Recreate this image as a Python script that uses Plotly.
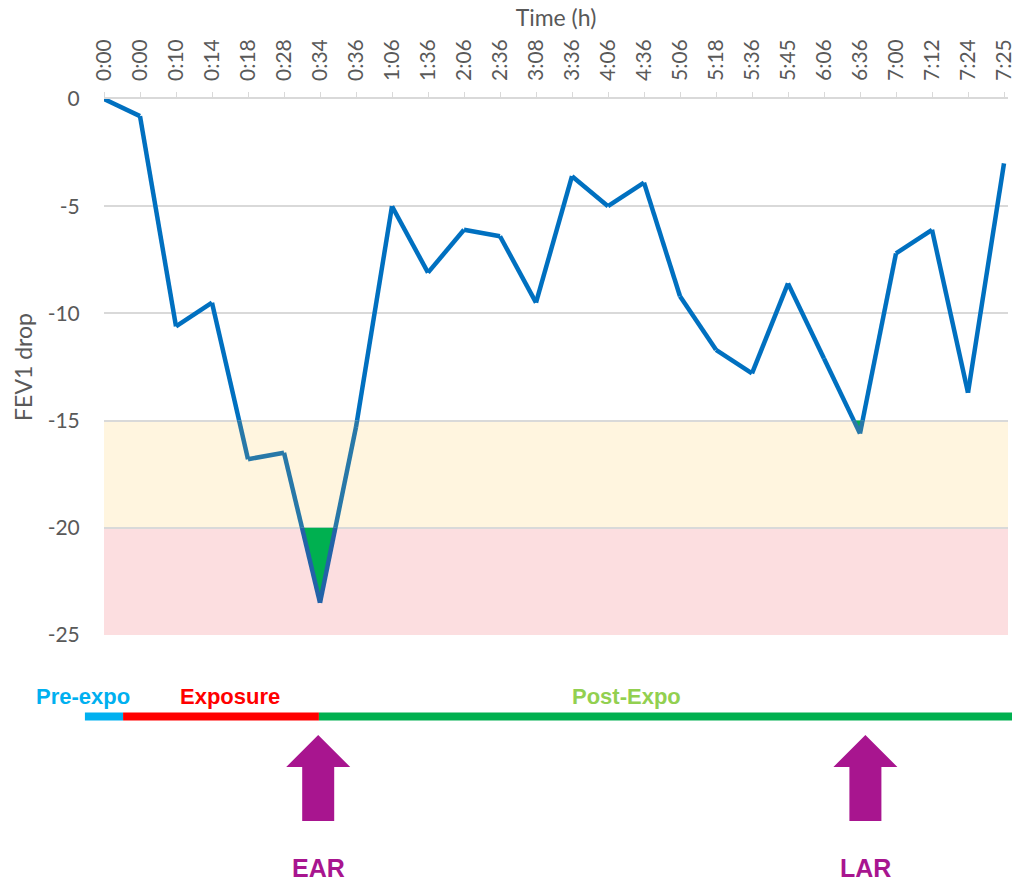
import plotly.graph_objects as go

# ---------------- data ----------------
time_labels = ["0:00", "0:00", "0:10", "0:14", "0:18", "0:28", "0:34", "0:36", "1:06", "1:36",
               "2:06", "2:36", "3:08", "3:36", "4:06", "4:36", "5:06", "5:18", "5:36", "5:45",
               "6:06", "6:36", "7:00", "7:12", "7:24", "7:25"]
fev1_drop = [0, -0.8, -10.6, -9.5, -16.8, -16.5, -23.5, -15.3, -5.0, -8.1,
             -6.1, -6.4, -9.5, -3.6, -5.0, -3.9, -9.2, -11.7, -12.8, -8.6,
             -12.1, -15.6, -7.2, -6.1, -13.7, -3.0]
y_ticks = [0, -5, -10, -15, -20, -25]
y_tick_labels = ["0", "-5", "-10", "-15", "-20", "-25"]

band_limits = [-15, -20, -25]          # yellow zone: -15..-20, red zone: -20..-25
band_colors = ["#FFF5DF", "#FCDEE0"]
line_colors = ["#0070C0", "#2878A8", "#2262A8"]   # above -15, in yellow zone, in red zone

phase_names = ["Pre-expo", "Exposure", "Post-Expo"]
phase_bounds = [-0.53, 0.53, 5.97, 25.25]          # in time-point index units
phase_bar_colors = ["#00B0F0", "#FF0000", "#00B050"]
phase_text_colors = ["#00B0F0", "#FF0000", "#92D050"]
phase_label_pos = [-0.58, 3.49, 14.51]

event_names = ["EAR", "LAR"]
event_index = [6, 21]                  # time point of the reaction
event_threshold = [-20, -15]
event_arrow_pos = [5.95, 21.15]
arrow_color = "#A8158F"

# ---------------- geometry helpers ----------------
W, H = 1012, 883
ML, MR, MT, MB = 104, 4, 99, 248
PW, PH = W - ML - MR, H - MT - MB
x_idx = list(range(len(fev1_drop)))
x_range = [0, (len(fev1_drop) - 1) * PW / 900.0]


def xp(i):
    return (i - x_range[0]) / (x_range[1] - x_range[0])


def yp(py):
    return (H - MB - py) / PH


def cross(x0, y0, x1, y1, th):
    t = (th - y0) / (y1 - y0)
    return x0 + t * (x1 - x0)


def below_polygon(k, th):
    xs, ys = [], []
    a = k
    while a > 0 and fev1_drop[a - 1] < th:
        a -= 1
    b = k
    while b < len(fev1_drop) - 1 and fev1_drop[b + 1] < th:
        b += 1
    xs.append(cross(a - 1, fev1_drop[a - 1], a, fev1_drop[a], th))
    ys.append(th)
    for i in range(a, b + 1):
        xs.append(i)
        ys.append(fev1_drop[i])
    xs.append(cross(b, fev1_drop[b], b + 1, fev1_drop[b + 1], th))
    ys.append(th)
    return xs, ys


def band_of(y):
    if y > band_limits[0]:
        return 0
    if y > band_limits[1]:
        return 1
    return 2


# split line into pieces colored by the zone they lie in
pieces = {0: ([], []), 1: ([], []), 2: ([], [])}
for i in range(len(fev1_drop) - 1):
    x0, y0, x1, y1 = i, fev1_drop[i], i + 1, fev1_drop[i + 1]
    pts = [(x0, y0)]
    for th in band_limits[:2]:
        if (y0 - th) * (y1 - th) < 0:
            pts.append((cross(x0, y0, x1, y1, th), th))
    pts.append((x1, y1))
    pts.sort(key=lambda p: p[0])
    for (ax, ay), (bx, by) in zip(pts[:-1], pts[1:]):
        z = band_of((ay + by) / 2)
        pieces[z][0].extend([ax, bx, None])
        pieces[z][1].extend([ay, by, None])

fig = go.Figure()

# green fill under thresholds at the reactions
for k, th in zip(event_index, event_threshold):
    fx, fy = below_polygon(k, th)
    fig.add_trace(go.Scatter(x=fx, y=fy, fill="toself", fillcolor="#00B050",
                             mode="lines", line=dict(width=0), hoverinfo="skip",
                             showlegend=False))

for z in range(3):
    fig.add_trace(go.Scatter(x=pieces[z][0], y=pieces[z][1], mode="lines",
                             line=dict(color=line_colors[z], width=4.5),
                             connectgaps=False, showlegend=False, hoverinfo="skip"))

# band shapes
shapes = []
for j in range(2):
    shapes.append(dict(type="rect", xref="paper", yref="y", x0=0, x1=1,
                       y0=band_limits[j], y1=band_limits[j + 1],
                       fillcolor=band_colors[j], line=dict(width=0), layer="below"))

# phase timeline
bar_y = yp(716.5)
for j in range(3):
    shapes.append(dict(type="line", xref="paper", yref="paper",
                       x0=xp(phase_bounds[j]), x1=xp(phase_bounds[j + 1]),
                       y0=bar_y, y1=bar_y,
                       line=dict(color=phase_bar_colors[j], width=8)))

annotations = []
for j in range(3):
    annotations.append(dict(x=xp(phase_label_pos[j]), y=yp(696), xref="paper", yref="paper",
                            text="<b>" + phase_names[j] + "</b>", showarrow=False,
                            xanchor="center", yanchor="middle",
                            font=dict(family="Liberation Sans, Arial", size=22,
                                      color=phase_text_colors[j])))

# event arrows
for name, pos in zip(event_names, event_arrow_pos):
    cx = xp(pos)
    hw, sw = 32 / PW, 16 / PW
    yt, yb, yb2 = yp(735), yp(767), yp(821)
    path = (f"M {cx},{yt} L {cx + hw},{yb} L {cx + sw},{yb} L {cx + sw},{yb2} "
            f"L {cx - sw},{yb2} L {cx - sw},{yb} L {cx - hw},{yb} Z")
    shapes.append(dict(type="path", xref="paper", yref="paper", path=path,
                       fillcolor=arrow_color, line=dict(width=0)))
    annotations.append(dict(x=cx, y=yp(868), xref="paper", yref="paper",
                            text="<b>" + name + "</b>", showarrow=False,
                            xanchor="center", yanchor="middle",
                            font=dict(family="Liberation Sans, Arial", size=25,
                                      color=arrow_color)))

axis_font = dict(family="Lato, Open Sans, sans-serif", size=21, color="#595959")
title_font = dict(family="Lato, Open Sans, sans-serif", size=23, color="#595959")

fig.update_layout(
    width=W, height=H,
    margin=dict(l=ML, r=MR, t=MT, b=MB),
    plot_bgcolor="white", paper_bgcolor="white",
    shapes=shapes, annotations=annotations,
    showlegend=False,
    xaxis=dict(side="top", range=x_range, tickmode="array", tickvals=x_idx,
               ticktext=time_labels, tickangle=-90, ticks="outside", ticklen=5,
               tickcolor="#D9D9D9", showline=True, linecolor="#D9D9D9", linewidth=1.5,
               showgrid=False, zeroline=False, tickfont=axis_font, automargin=False,
               ticklabelstandoff=7, ticklabeloverflow="allow",
               title=dict(text="Time (h)", font=title_font, standoff=6)),
    yaxis=dict(range=[-25, 0], tickmode="array", tickvals=y_ticks, ticktext=y_tick_labels,
               showgrid=True, gridcolor="#D9D9D9", gridwidth=1.5, zeroline=False,
               showline=False, ticks="outside", ticklen=19, tickcolor="rgba(0,0,0,0)",
               tickfont=axis_font, automargin=False,
               title=dict(text="FEV1 drop", font=title_font, standoff=8)),
)

fig.write_html("out.html", config={"displayModeBar": False},
               post_script="document.body.style.margin='0';")
